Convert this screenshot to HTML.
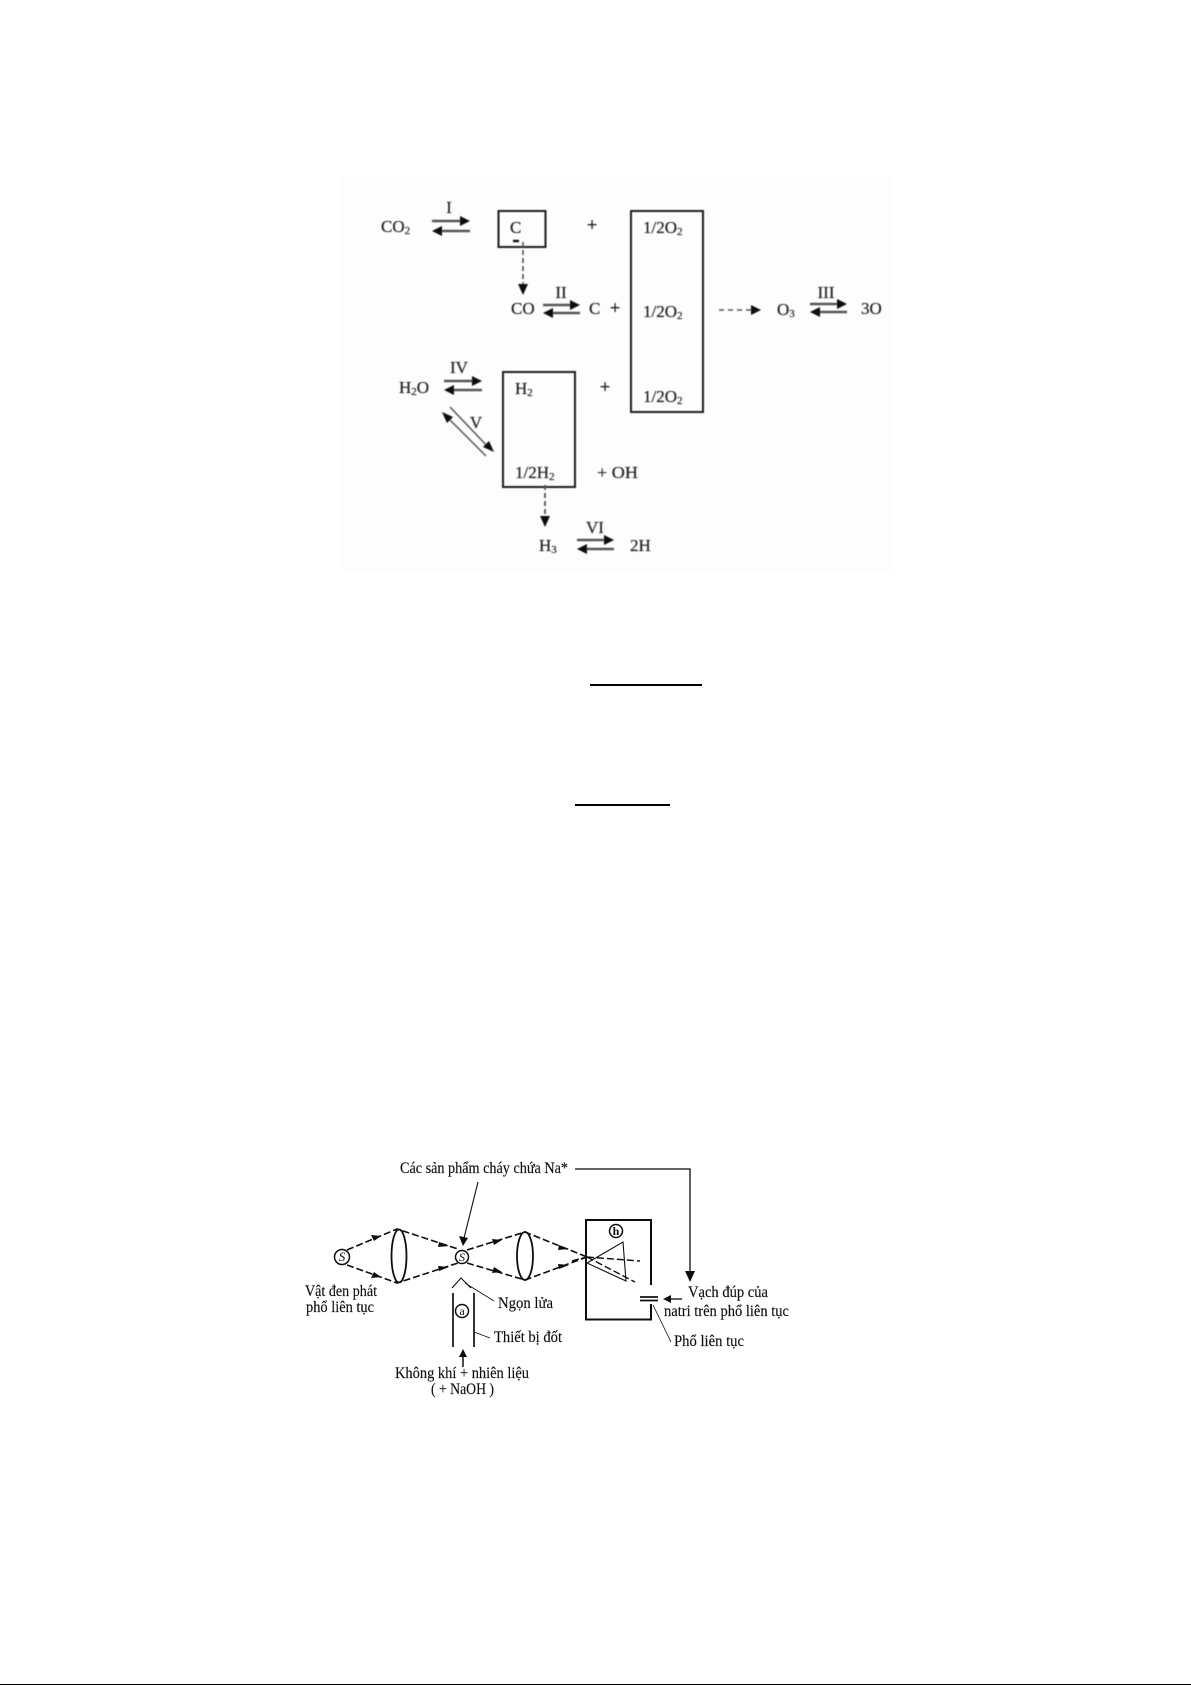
<!DOCTYPE html>
<html>
<head>
<meta charset="utf-8">
<style>
html,body{margin:0;padding:0;background:#fff;width:1191px;height:1685px;overflow:hidden}
svg{display:block}
text{font-family:"Liberation Serif","DejaVu Serif",serif}
.t{font-size:17px;fill:#222;stroke:#333;stroke-width:.25px}
.t tspan.s{font-size:11px}
.p{font-size:19px;font-weight:bold;fill:#222;text-anchor:middle}
.l{text-anchor:middle}
.b{font-size:16px;fill:#111;stroke:#111;stroke-width:.15px}
.c{font-size:12px;fill:#111;text-anchor:middle}
</style>
</head>
<body>
<svg width="1191" height="1685" viewBox="0 0 1191 1685" xmlns="http://www.w3.org/2000/svg">
<defs>
<filter id="bl" x="-5%" y="-5%" width="110%" height="110%"><feGaussianBlur stdDeviation="0.65"/></filter>
<filter id="bl2" x="-5%" y="-5%" width="110%" height="110%"><feGaussianBlur stdDeviation="0.35"/></filter>
</defs>
<rect width="1191" height="1685" fill="#fff"/>
<rect x="340" y="175" width="553" height="396" fill="#fdfdfd"/>

<!-- top diagram -->
<g filter="url(#bl)">
<g fill="none" stroke="#1a1a1a" stroke-width="2">
<rect x="498.500" y="211" width="47" height="36"/>
<rect x="631" y="211" width="72" height="201"/>
<rect x="503" y="372" width="72" height="115"/>
</g>
<g stroke="#555" stroke-width="2.4" fill="none">
<line x1="432" y1="221" x2="464" y2="221"/><line x1="438" y1="231" x2="470" y2="231"/>
<line x1="543" y1="305" x2="574" y2="305"/><line x1="549" y1="313" x2="580" y2="313"/>
<line x1="810" y1="304" x2="841" y2="304"/><line x1="816" y1="312" x2="847" y2="312"/>
<line x1="444" y1="381" x2="476" y2="381"/><line x1="450" y1="390" x2="482" y2="390"/>
<line x1="577" y1="540" x2="608" y2="540"/><line x1="583" y1="549" x2="614" y2="549"/>
<line x1="450" y1="407" x2="490" y2="449" stroke-width="1.5"/>
<line x1="486" y1="456" x2="446" y2="416" stroke-width="1.5"/>
<line x1="523" y1="242" x2="523" y2="286" stroke-dasharray="5 3" stroke-width="1.6"/>
<line x1="545" y1="485" x2="545" y2="519" stroke-dasharray="5 3" stroke-width="1.8"/>
<line x1="719" y1="310" x2="752" y2="310" stroke-dasharray="5 4" stroke-width="1.5"/>
<line x1="513" y1="241" x2="519" y2="241" stroke="#111"/>
</g>
<g fill="#111">
<polygon points="470,221 460,216 460,226"/><polygon points="432,231 442,226 442,236"/>
<polygon points="580,305 570,300 570,310"/><polygon points="543,313 553,308 553,318"/>
<polygon points="847,304 837,299 837,309"/><polygon points="810,312 820,307 820,317"/>
<polygon points="482,381 472,376 472,386"/><polygon points="444,390 454,385 454,395"/>
<polygon points="614,540 604,535 604,545"/><polygon points="577,549 587,544 587,554"/>
<polygon points="494,452 483,447 489,441"/><polygon points="442,412 453,417 447,423"/>
<polygon points="523,295 518,284 528,284"/><polygon points="545,527 540,516 550,516"/>
<polygon points="761,310 751,305 751,315"/>
</g>
<text class="t" x="381" y="232">CO<tspan class="s" dy="2">2</tspan></text>
<text class="t l" x="449" y="213">I</text>
<text class="t" x="510" y="233">C</text>
<text class="p" x="592" y="231">+</text>
<text class="t" x="643" y="233">1/2O<tspan class="s" dy="2">2</tspan></text>
<text class="t" x="643" y="317">1/2O<tspan class="s" dy="2">2</tspan></text>
<text class="t" x="643" y="402">1/2O<tspan class="s" dy="2">2</tspan></text>
<text class="t" x="511" y="314">CO</text>
<text class="t l" x="561" y="298">II</text>
<text class="t" x="589" y="314">C</text>
<text class="p" x="615" y="314">+</text>
<text class="t" x="777" y="315">O<tspan class="s" dy="2">3</tspan></text>
<text class="t l" x="826" y="298">III</text>
<text class="t" x="861" y="314">3O</text>
<text class="t" x="399" y="393">H<tspan class="s" dy="2">2</tspan><tspan dy="-2">O</tspan></text>
<text class="t l" x="459" y="373">IV</text>
<text class="t l" x="476" y="428">V</text>
<text class="t" x="515" y="394">H<tspan class="s" dy="2">2</tspan></text>
<text class="p" x="605" y="393">+</text>
<text class="t" x="515" y="478">1/2H<tspan class="s" dy="2">2</tspan></text>
<text class="t" x="597" y="478" textLength="41" lengthAdjust="spacingAndGlyphs">+ OH</text>
<text class="t" x="539" y="551">H<tspan class="s" dy="2">3</tspan></text>
<text class="t l" x="595" y="533">VI</text>
<text class="t" x="630" y="551">2H</text>
</g>

<!-- separator lines -->
<rect x="590" y="684" width="112" height="2" fill="#000"/>
<rect x="575" y="804" width="95" height="2" fill="#000"/>

<!-- optical diagram -->
<g filter="url(#bl2)">
<g fill="none" stroke="#111" stroke-width="1.5">
<circle cx="342" cy="1257" r="7.5"/>
<circle cx="462" cy="1257" r="6.500"/>
<circle cx="616" cy="1231" r="6.500"/>
<circle cx="462" cy="1311" r="6.500"/>
<ellipse cx="399" cy="1256" rx="7.5" ry="26.5" stroke-width="1.8"/>
<ellipse cx="525" cy="1256" rx="8" ry="24" stroke-width="1.8"/>
</g>
<g fill="none" stroke="#111" stroke-width="1.6" stroke-dasharray="7 3">
<polyline points="347,1250 397,1229 458,1249"/>
<polyline points="347,1265 397,1283 458,1263"/>
<polyline points="467,1250 525,1232 587,1257"/>
<polyline points="467,1263 525,1280 587,1257"/>
<line x1="587" y1="1257" x2="640" y2="1261" stroke-width="1.4"/>
<line x1="587" y1="1257" x2="635" y2="1282" stroke-width="1.4"/>
<line x1="572" y1="1261" x2="587" y2="1257"/>
</g>
<g fill="none" stroke="#111" stroke-width="1.1">
<polygon points="587,1263 623,1242 626,1281"/>
<line x1="478" y1="1182" x2="464" y2="1238"/>
<polyline points="575,1169 690,1169 690,1272" stroke-width="1.3"/>
<polyline points="452,1288 461,1278 471,1288"/>
<line x1="465" y1="1283" x2="494" y2="1301" stroke-width="0.8"/>
<line x1="474" y1="1332" x2="490" y2="1338" stroke-width="0.8"/>
<line x1="653" y1="1305" x2="671" y2="1342" stroke-width="0.8"/>
<line x1="463" y1="1367" x2="463" y2="1354" stroke-width="1.5"/>
<line x1="682" y1="1299" x2="668" y2="1299" stroke-width="1.3"/>
</g>
<g fill="none" stroke="#111" stroke-width="1.7">
<line x1="453" y1="1293" x2="453" y2="1347"/>
<line x1="474" y1="1293" x2="474" y2="1347"/>
<polyline points="651,1285 651,1220 586,1220 586,1319.500 651,1319.500 651,1304" stroke-width="2"/>
<line x1="640" y1="1297" x2="658" y2="1297"/>
<line x1="640" y1="1300.500" x2="658" y2="1300.500"/>
</g>
<g fill="#111">
<polygon points="463,1246 459,1236 468,1238"/>
<polygon points="690,1282 685,1271 695,1271"/>
<polygon points="663,1299 671,1295 671,1303"/>
<polygon points="463,1349 459,1357 467,1357"/>
<polygon points="381,1236 371,1235 374,1241"/>
<polygon points="381,1277 371,1278 374,1272"/>
<polygon points="449,1246 439,1242 438,1247"/>
<polygon points="449,1267 439,1271 438,1266"/>
<polygon points="502,1240 492,1239 494,1245"/>
<polygon points="502,1272 492,1273 494,1267"/>
<polygon points="569,1249 559,1245 558,1250"/>
<polygon points="569,1265 559,1269 558,1264"/>
</g>
<text class="b" x="400" y="1173" textLength="168" lengthAdjust="spacingAndGlyphs">Các sản phẩm cháy chứa Na*</text>
<text class="c" x="342" y="1261" font-style="italic" style="font-size:13px">S</text>
<text class="c" x="462" y="1261" font-style="italic">S</text>
<text class="c" x="616" y="1235" font-weight="bold">h</text>
<text class="c" x="462" y="1315">a</text>
<text class="b" x="305" y="1296" textLength="72" lengthAdjust="spacingAndGlyphs">Vật đen phát</text>
<text class="b" x="306" y="1312" textLength="68" lengthAdjust="spacingAndGlyphs">phổ liên tục</text>
<text class="b" x="498" y="1308" textLength="55" lengthAdjust="spacingAndGlyphs">Ngọn lửa</text>
<text class="b" x="494" y="1342" textLength="68" lengthAdjust="spacingAndGlyphs">Thiết bị đốt</text>
<text class="b" x="395" y="1378" textLength="134" lengthAdjust="spacingAndGlyphs">Không khí + nhiên liệu</text>
<text class="b" x="431" y="1394" textLength="63" lengthAdjust="spacingAndGlyphs">( + NaOH )</text>
<text class="b" x="688" y="1297" textLength="80" lengthAdjust="spacingAndGlyphs">Vạch đúp của</text>
<text class="b" x="664" y="1316" textLength="125" lengthAdjust="spacingAndGlyphs">natri trên phổ liên tục</text>
<text class="b" x="674" y="1346" textLength="70" lengthAdjust="spacingAndGlyphs">Phổ liên tục</text>
</g>

<!-- bottom edge -->
<rect x="0" y="1684" width="1191" height="1" fill="#000"/>
</svg>
</body>
</html>
